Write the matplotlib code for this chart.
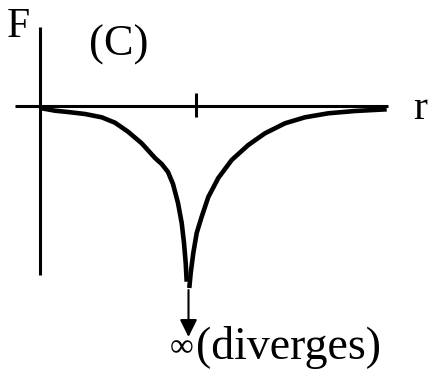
import matplotlib
matplotlib.use("Agg")
import matplotlib.pyplot as plt

# Curve points (pixel-space coordinates, y downward)
left_r = [41.7, 55, 68, 85, 101.7, 115, 128, 141.7, 155, 161.7, 168, 173,
          178, 181.7, 184, 185.7, 186.7]
left_F = [108.3, 110.7, 112, 114, 117.3, 122.7, 131.7, 143.3, 158, 164, 172, 184,
          203, 223, 243, 263, 281.7]
right_r = [189.3, 190.7, 193.3, 196.7, 201.7, 208.3, 218.3, 231.7, 248.3, 265,
           285, 305, 328.3, 355, 386.7]
right_F = [288, 273, 253, 233, 216.7, 197, 178, 160, 145, 133.3,
           123.3, 117.3, 113.3, 111, 109.3]

panel_label = "(C)"
y_label = "F"
x_label = "r"
inf_label = "∞"
div_label = "(diverges)"

fig = plt.figure(figsize=(4.3, 3.7), dpi=100)
ax = fig.add_axes([0, 0, 1, 1])
ax.set_xlim(0, 430)
ax.set_ylim(370, 0)
ax.axis("off")

# axes
ax.plot([15, 388], [106, 106], color="black", lw=2.2, solid_capstyle="butt")
ax.plot([40, 40], [27, 275], color="black", lw=2.2, solid_capstyle="butt")
ax.plot([195.5, 195.5], [93, 117], color="black", lw=2.2, solid_capstyle="butt")

ax.plot(left_r, left_F, color="black", lw=3.3, solid_capstyle="butt",
        solid_joinstyle="round")
ax.plot(right_r, right_F, color="black", lw=3.3, solid_capstyle="butt",
        solid_joinstyle="round")

ax.annotate("", xy=(188.5, 337), xytext=(188.5, 290),
            arrowprops=dict(arrowstyle="-|>,head_length=1.05,head_width=0.52",
                            color="black", lw=1.5, shrinkA=0, shrinkB=0))

font = "Liberation Serif"
ax.text(18, 37, y_label, fontsize=30, family=font, ha="center", va="baseline")
ax.text(119, 56, panel_label, fontsize=32, family=font, ha="center", va="baseline")
ax.text(420, 119, x_label, fontsize=30, family=font, ha="center", va="baseline")
ax.text(182, 356, inf_label, fontsize=24, family=font, ha="center", va="baseline")
ax.text(196, 359, div_label, fontsize=33, family=font, ha="left", va="baseline")

fig.savefig("out.png", dpi=100)
